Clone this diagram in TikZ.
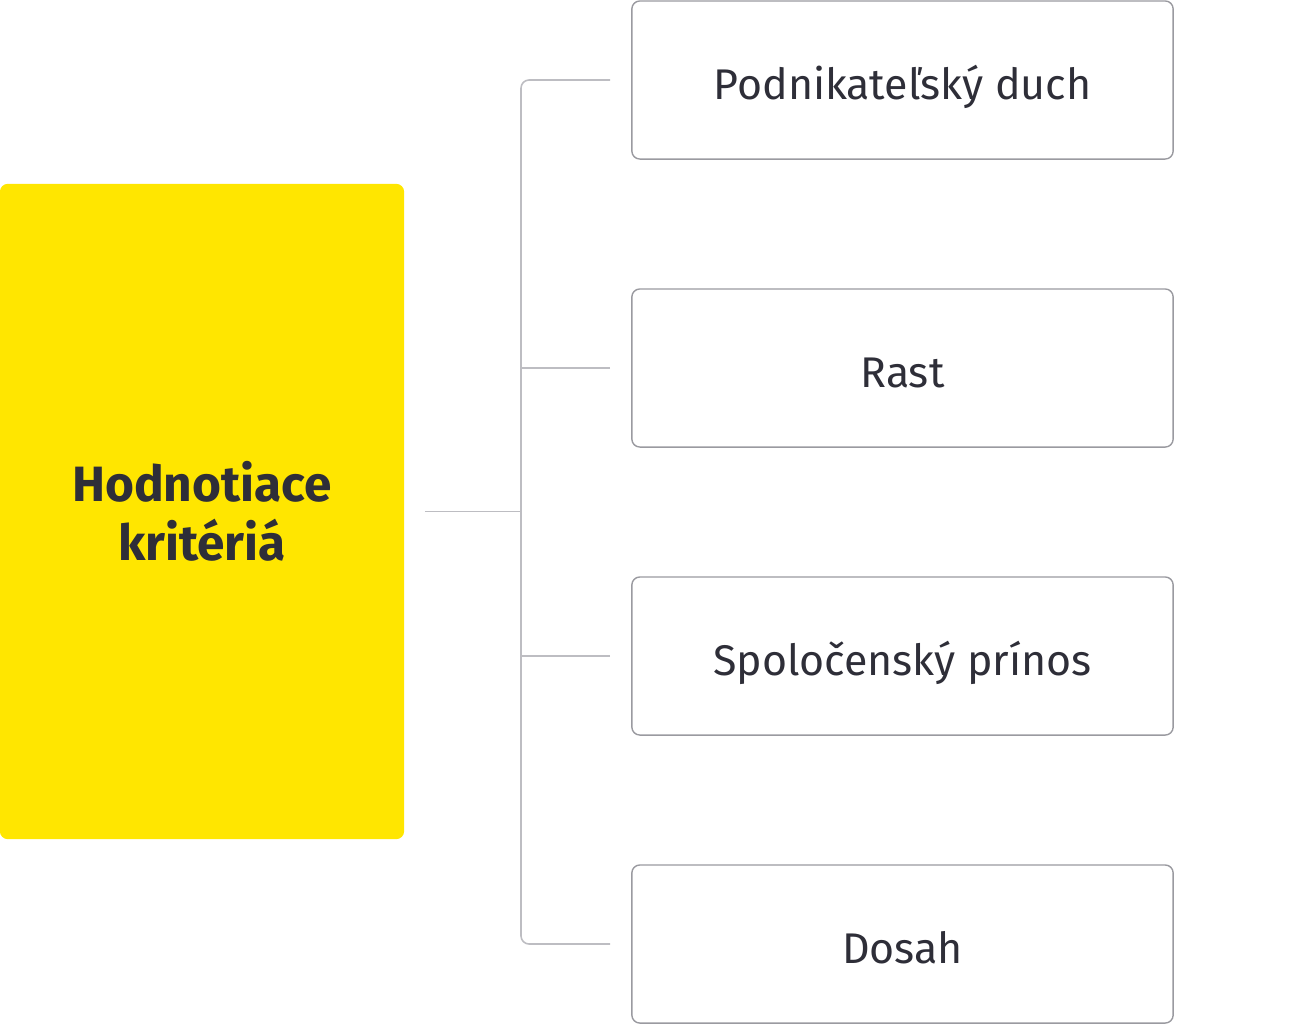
\documentclass[tikz,border=0pt]{standalone}
\usepackage{fontspec}
\setmainfont{Fira Sans}
\usetikzlibrary{calc}
\definecolor{eyyellow}{HTML}{FFE600}
\definecolor{eytext}{HTML}{2E2E38}
\definecolor{boxline}{HTML}{9A9AA0}
\definecolor{conn}{HTML}{BDBDC2}
\begin{document}
\begin{tikzpicture}[x=0.01cm,y=-0.01cm,
  item/.style={draw=boxline, line width=0.4pt, rounded corners=0.08cm, minimum width=5.41cm, minimum height=1.58cm, text=eytext, font=\fontsize{12.2}{14}\selectfont, inner sep=0pt},
  itemtext/.style={text=eytext, font=\fontsize{12.2}{14}\selectfont, inner sep=0pt},
  main/.style={fill=eyyellow, rounded corners=0.08cm, minimum width=4.04cm, minimum height=6.55cm, text=eytext, font=\fontsize{14.1}{16.8}\selectfont\bfseries, align=center, inner sep=0pt},
  link/.style={draw=conn, line width=0.45pt}]
\useasboundingbox (0,0) rectangle (1300,1024);
\node[main] (m) at (202,511.5) {Hodnotiace\\kritériá};
\node[item] (b1) at (902.5,80) {};
\node[item] (b2) at (902.5,368) {};
\node[item] (b3) at (902.5,656) {};
\node[item] (b4) at (902.5,944) {};
\node[itemtext, anchor=base] (l1) at ($(b1.center)+(0,19)$) {Podnikateľský duch};
\node[itemtext, anchor=base] (l2) at ($(b2.center)+(0,19)$) {Rast};
\node[itemtext, anchor=base] (l3) at ($(b3.center)+(0,19)$) {Spoločenský prínos};
\node[itemtext, anchor=base] (l4) at ($(b4.center)+(0,19)$) {Dosah};
\coordinate (t1) at ($(b1.west)+(-21,0)$);
\coordinate (t2) at ($(b2.west)+(-21,0)$);
\coordinate (t3) at ($(b3.west)+(-21,0)$);
\coordinate (t4) at ($(b4.west)+(-21,0)$);
\coordinate (ms) at ($(m.east)+(20,0)$);
\coordinate (bx) at (521,512);
\draw[link, rounded corners=0.08cm] (t1) -- (t1 -| bx) -- (t4 -| bx) -- (t4);
\draw[link] (t2) -- (t2 -| bx);
\draw[link] (t3) -- (t3 -| bx);
\draw[link] (ms) -- (ms -| bx);
\end{tikzpicture}
\end{document}
